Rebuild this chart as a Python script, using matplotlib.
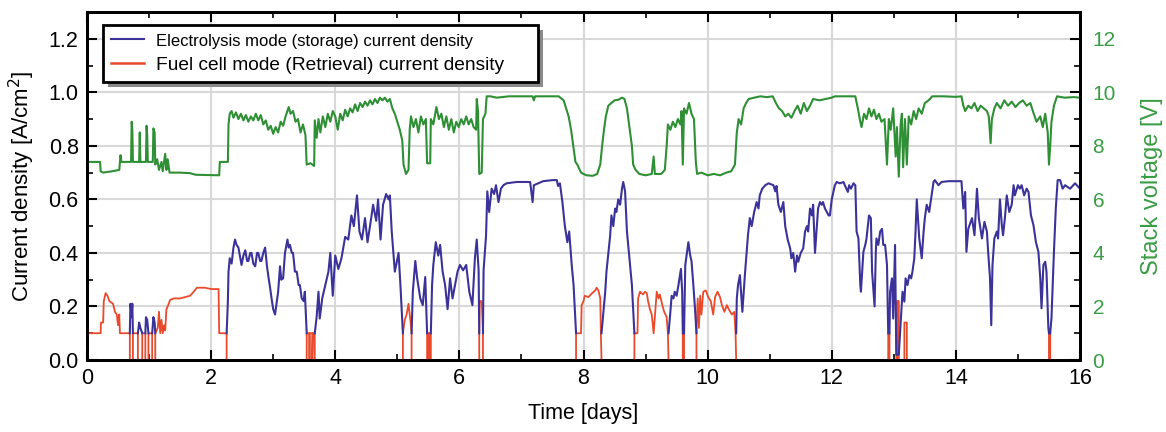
import numpy as np
import matplotlib
matplotlib.use("Agg")
import matplotlib.pyplot as plt
from matplotlib.lines import Line2D
from matplotlib.patches import Rectangle
from matplotlib.transforms import IdentityTransform
from matplotlib.ticker import MultipleLocator

plt.rcParams['font.family'] = ['Liberation Sans', 'DejaVu Sans']

# ---- data: (time [days], value) ----
# stack voltage [V]
voltage = [
    (0.00, 7.40), (0.21, 7.40), (0.22, 7.05), (0.26, 7.00), (0.40, 7.05), (0.52, 7.10),
    (0.53, 7.40), (0.54, 7.65), (0.555, 7.40), (0.71, 7.40), (0.72, 8.90), (0.73, 8.60),
    (0.74, 7.40), (0.84, 7.40), (0.85, 8.50), (0.86, 7.40), (0.95, 7.40), (0.96, 8.75),
    (0.97, 8.40), (0.98, 7.40), (1.06, 7.40), (1.07, 8.65), (1.09, 8.50), (1.10, 7.30),
    (1.13, 7.50), (1.16, 7.10), (1.20, 7.40), (1.22, 7.05), (1.26, 7.70), (1.28, 7.10),
    (1.30, 7.50), (1.33, 7.00), (1.50, 7.00), (1.66, 6.98), (1.75, 6.92), (2.13, 6.90),
    (2.14, 7.40), (2.27, 7.40), (2.28, 8.80), (2.30, 9.20), (2.33, 9.30), (2.36, 9.05),
    (2.40, 9.25), (2.44, 9.00), (2.48, 9.20), (2.52, 8.95), (2.56, 9.15), (2.60, 8.90),
    (2.64, 9.10), (2.68, 8.95), (2.72, 9.20), (2.76, 8.95), (2.80, 9.15), (2.84, 8.80),
    (2.88, 8.95), (2.92, 8.60), (2.96, 8.75), (3.00, 8.45), (3.04, 8.70), (3.08, 8.50),
    (3.12, 8.90), (3.16, 8.75), (3.20, 9.10), (3.25, 9.45), (3.28, 9.20), (3.32, 9.30),
    (3.36, 8.90), (3.40, 9.00), (3.44, 8.50), (3.48, 8.80), (3.52, 8.40), (3.54, 7.30),
    (3.60, 7.35), (3.66, 7.25), (3.67, 8.95), (3.70, 8.30), (3.73, 9.00), (3.76, 8.50),
    (3.80, 9.10), (3.84, 8.70), (3.88, 9.20), (3.92, 8.90), (3.96, 9.30), (4.00, 9.10),
    (4.04, 8.60), (4.08, 9.20), (4.12, 8.95), (4.16, 9.35), (4.20, 9.10), (4.24, 9.40),
    (4.28, 9.25), (4.32, 9.55), (4.36, 9.30), (4.40, 9.60), (4.44, 9.45), (4.48, 9.65),
    (4.52, 9.50), (4.56, 9.70), (4.60, 9.55), (4.64, 9.75), (4.68, 9.60), (4.72, 9.80),
    (4.76, 9.70), (4.80, 9.80), (4.84, 9.65), (4.88, 9.75), (4.92, 9.40), (4.96, 9.20),
    (5.00, 8.90), (5.04, 8.60), (5.08, 8.20), (5.10, 7.30), (5.14, 6.95), (5.18, 7.10),
    (5.20, 8.60), (5.22, 9.10), (5.26, 8.70), (5.30, 9.00), (5.34, 8.50), (5.38, 9.10),
    (5.42, 8.80), (5.46, 9.00), (5.48, 7.35), (5.53, 7.35), (5.54, 9.00), (5.58, 8.80),
    (5.63, 9.45), (5.67, 9.00), (5.71, 9.20), (5.75, 8.70), (5.79, 9.10), (5.83, 8.60),
    (5.87, 9.00), (5.91, 8.50), (5.95, 8.90), (5.99, 8.70), (6.03, 9.00), (6.07, 8.80),
    (6.11, 9.10), (6.15, 8.80), (6.19, 9.00), (6.23, 8.70), (6.27, 8.60), (6.28, 9.75),
    (6.30, 9.30), (6.32, 6.95), (6.36, 7.00), (6.38, 9.00), (6.42, 9.20), (6.44, 9.85),
    (6.50, 9.85), (6.60, 9.80), (6.80, 9.85), (7.00, 9.85), (7.18, 9.85), (7.20, 9.70),
    (7.22, 9.85), (7.40, 9.85), (7.60, 9.85), (7.68, 9.70), (7.72, 9.40), (7.76, 9.10),
    (7.80, 8.60), (7.84, 7.90), (7.87, 7.40), (7.90, 7.30), (7.96, 7.00), (8.00, 6.95),
    (8.05, 6.90), (8.15, 6.88), (8.22, 6.95), (8.27, 7.30), (8.30, 8.00), (8.33, 8.60),
    (8.36, 9.10), (8.40, 9.50), (8.45, 9.60), (8.50, 9.70), (8.56, 9.72), (8.62, 9.80),
    (8.66, 9.75), (8.70, 9.40), (8.74, 8.70), (8.78, 8.00), (8.80, 7.30), (8.84, 7.10),
    (8.90, 6.95), (9.00, 6.90), (9.10, 6.95), (9.13, 7.60), (9.15, 6.95), (9.25, 6.95),
    (9.31, 7.10), (9.34, 8.00), (9.36, 8.80), (9.40, 8.60), (9.44, 8.90), (9.48, 8.70),
    (9.52, 9.00), (9.56, 8.80), (9.58, 9.30), (9.60, 7.30), (9.62, 9.40), (9.66, 9.20),
    (9.70, 9.60), (9.74, 9.20), (9.78, 9.00), (9.81, 7.40), (9.83, 6.95), (9.90, 7.00),
    (10.00, 6.90), (10.10, 6.95), (10.20, 6.90), (10.30, 7.00), (10.38, 7.05), (10.44, 7.30),
    (10.47, 8.50), (10.50, 9.00), (10.54, 8.80), (10.58, 9.40), (10.62, 9.60), (10.66, 9.75),
    (10.75, 9.80), (10.85, 9.85), (10.95, 9.82), (11.05, 9.85), (11.10, 9.60), (11.15, 9.40),
    (11.20, 9.30), (11.25, 9.10), (11.30, 9.20), (11.35, 9.05), (11.40, 9.30), (11.45, 9.50),
    (11.50, 9.20), (11.55, 9.60), (11.60, 9.30), (11.65, 9.50), (11.70, 9.75), (11.80, 9.70),
    (11.90, 9.75), (12.00, 9.80), (12.05, 9.85), (12.20, 9.85), (12.38, 9.85), (12.42, 9.40),
    (12.46, 8.90), (12.48, 8.70), (12.52, 9.20), (12.56, 9.00), (12.60, 9.40), (12.64, 9.10),
    (12.68, 9.35), (12.72, 9.00), (12.76, 9.20), (12.80, 8.90), (12.85, 9.00), (12.89, 7.30),
    (12.92, 9.00), (12.95, 8.60), (12.99, 9.40), (13.03, 7.60), (13.05, 8.70), (13.08, 6.85),
    (13.11, 8.80), (13.13, 9.20), (13.15, 7.20), (13.18, 9.00), (13.21, 7.30), (13.24, 9.10),
    (13.28, 8.80), (13.32, 9.30), (13.36, 9.00), (13.40, 9.40), (13.45, 9.20), (13.50, 9.60),
    (13.56, 9.70), (13.62, 9.85), (13.80, 9.85), (14.00, 9.83), (14.09, 9.85), (14.12, 9.50),
    (14.15, 9.30), (14.20, 9.50), (14.25, 9.40), (14.30, 9.60), (14.35, 9.30), (14.40, 9.50),
    (14.45, 9.40), (14.50, 9.30), (14.53, 9.10), (14.56, 8.10), (14.58, 9.00), (14.62, 9.40),
    (14.66, 9.60), (14.72, 9.40), (14.78, 9.70), (14.84, 9.50), (14.90, 9.65), (14.96, 9.45),
    (15.02, 9.60), (15.08, 9.70), (15.14, 9.50), (15.20, 9.60), (15.24, 9.30), (15.30, 8.90),
    (15.36, 9.10), (15.40, 8.70), (15.44, 9.20), (15.48, 8.50), (15.50, 7.30), (15.52, 8.00),
    (15.54, 8.90), (15.58, 9.50), (15.63, 9.85), (15.75, 9.80), (15.90, 9.82), (16.00, 9.80),
]

# electrolysis current density [A/cm2], None = gap
electrolysis = [
    (0.69, 0.10), (0.70, 0.21), (0.72, 0.16), (0.73, 0.21), (0.74, 0.10), (None, None),
    (0.82, 0.10), (0.84, 0.14), (0.86, 0.12), (0.89, 0.10), (None, None),
    (0.94, 0.10), (0.95, 0.16), (0.97, 0.15), (0.99, 0.10), (None, None),
    (1.05, 0.10), (1.07, 0.16), (1.09, 0.14), (1.10, 0.10), (None, None),
    (2.25, 0.10), (2.27, 0.22), (2.28, 0.33), (2.30, 0.38), (2.33, 0.36), (2.36, 0.42),
    (2.385, 0.45), (2.41, 0.43), (2.44, 0.42), (2.47, 0.38), (2.49, 0.355), (2.52, 0.39),
    (2.55, 0.41), (2.58, 0.37), (2.60, 0.37), (2.63, 0.40), (2.65, 0.40), (2.68, 0.36),
    (2.71, 0.35), (2.74, 0.40), (2.76, 0.40), (2.79, 0.37), (2.81, 0.37), (2.84, 0.40),
    (2.87, 0.42), (2.90, 0.35), (2.93, 0.30), (2.95, 0.27), (2.98, 0.22), (3.00, 0.19),
    (3.03, 0.17), (3.06, 0.22), (3.08, 0.255), (3.11, 0.35), (3.13, 0.30), (3.16, 0.305),
    (3.19, 0.40), (3.23, 0.45), (3.25, 0.42), (3.27, 0.43), (3.30, 0.40), (3.32, 0.40),
    (3.35, 0.33), (3.38, 0.33), (3.41, 0.28), (3.43, 0.28), (3.46, 0.23), (3.49, 0.22),
    (3.51, 0.255), (3.53, 0.155), (3.54, 0.10), (None, None),
    (3.67, 0.10), (3.70, 0.16), (3.73, 0.255), (3.75, 0.155), (3.79, 0.23), (3.84, 0.28),
    (3.89, 0.33), (3.92, 0.40), (3.96, 0.24), (4.00, 0.39), (4.05, 0.34), (4.10, 0.38),
    (4.16, 0.46), (4.21, 0.45), (4.26, 0.54), (4.30, 0.50), (4.35, 0.615), (4.39, 0.48),
    (4.43, 0.45), (4.48, 0.53), (4.52, 0.44), (4.56, 0.50), (4.61, 0.58), (4.66, 0.52),
    (4.69, 0.60), (4.73, 0.45), (4.77, 0.58), (4.82, 0.62), (4.86, 0.60), (4.88, 0.615),
    (4.91, 0.48), (4.96, 0.33), (5.02, 0.40), (5.05, 0.28), (5.09, 0.10), (None, None),
    (5.23, 0.10), (5.25, 0.255), (5.29, 0.37), (5.32, 0.305), (5.37, 0.23), (5.41, 0.205),
    (5.45, 0.31), (5.48, 0.10), (None, None),
    (5.54, 0.10), (5.56, 0.28), (5.58, 0.355), (5.62, 0.44), (5.66, 0.39), (5.69, 0.43),
    (5.73, 0.33), (5.77, 0.28), (5.81, 0.19), (5.85, 0.305), (5.89, 0.23), (5.93, 0.28),
    (5.97, 0.33), (6.01, 0.355), (6.06, 0.335), (6.11, 0.355), (6.16, 0.255), (6.21, 0.205),
    (6.25, 0.38), (6.28, 0.45), (6.31, 0.335), (6.32, 0.10), (None, None),
    (6.38, 0.10), (6.39, 0.335), (6.43, 0.466), (6.45, 0.63), (6.48, 0.553), (6.52, 0.64),
    (6.56, 0.62), (6.59, 0.653), (6.63, 0.59), (6.67, 0.64), (6.71, 0.653), (6.76, 0.66),
    (6.92, 0.665), (7.14, 0.665), (7.18, 0.59), (7.20, 0.653), (7.35, 0.668), (7.50, 0.672),
    (7.57, 0.672), (7.59, 0.65), (7.62, 0.66), (7.66, 0.59), (7.70, 0.50), (7.74, 0.44),
    (7.77, 0.48), (7.81, 0.355), (7.84, 0.28), (7.88, 0.10), (None, None),
    (8.29, 0.10), (8.35, 0.255), (8.37, 0.33), (8.43, 0.466), (8.45, 0.54), (8.48, 0.50),
    (8.51, 0.566), (8.53, 0.553), (8.56, 0.60), (8.59, 0.58), (8.62, 0.64), (8.64, 0.665),
    (8.67, 0.63), (8.70, 0.48), (8.75, 0.355), (8.78, 0.28), (8.82, 0.10), (None, None),
    (9.37, 0.10), (9.40, 0.18), (9.42, 0.24), (9.45, 0.23), (9.47, 0.255), (9.50, 0.24),
    (9.53, 0.28), (9.57, 0.34), (9.59, 0.255), (9.60, 0.10), (None, None),
    (9.62, 0.10), (9.64, 0.355), (9.66, 0.39), (9.69, 0.44), (9.72, 0.39), (9.74, 0.37),
    (9.77, 0.28), (9.80, 0.18), (9.82, 0.10), (None, None),
    (10.46, 0.10), (10.47, 0.23), (10.49, 0.28), (10.52, 0.317), (10.56, 0.18), (10.60, 0.317),
    (10.65, 0.466), (10.68, 0.53), (10.71, 0.50), (10.75, 0.553), (10.79, 0.59), (10.82, 0.566),
    (10.84, 0.615), (10.88, 0.64), (10.93, 0.653), (10.98, 0.66), (11.06, 0.653), (11.09, 0.63),
    (11.11, 0.65), (11.14, 0.58), (11.18, 0.553), (11.22, 0.59), (11.25, 0.50), (11.29, 0.45),
    (11.33, 0.417), (11.35, 0.38), (11.38, 0.40), (11.41, 0.33), (11.44, 0.39), (11.46, 0.367),
    (11.50, 0.40), (11.54, 0.417), (11.57, 0.48), (11.60, 0.50), (11.62, 0.48), (11.65, 0.566),
    (11.68, 0.54), (11.70, 0.58), (11.73, 0.40), (11.76, 0.50), (11.78, 0.566), (11.81, 0.59),
    (11.84, 0.58), (11.86, 0.59), (11.89, 0.566), (11.95, 0.54), (11.97, 0.54), (12.00, 0.60),
    (12.05, 0.653), (12.08, 0.665), (12.13, 0.66), (12.19, 0.665), (12.21, 0.653), (12.26, 0.628),
    (12.28, 0.653), (12.31, 0.64), (12.35, 0.66), (12.38, 0.653), (12.40, 0.48), (12.43, 0.454),
    (12.46, 0.28), (12.47, 0.255), (12.51, 0.404), (12.54, 0.43), (12.56, 0.454), (12.60, 0.54),
    (12.63, 0.53), (12.65, 0.33), (12.69, 0.20), (12.71, 0.404), (12.72, 0.454), (12.75, 0.43),
    (12.78, 0.48), (12.81, 0.49), (12.83, 0.43), (12.86, 0.43), (12.89, 0.355), (12.91, 0.10),
    (None, None),
    (12.93, 0.10), (12.94, 0.255), (12.97, 0.305), (12.99, 0.155), (13.02, 0.43), (13.04, 0.02),
    (13.08, 0.02), (13.10, 0.10), (13.14, 0.255), (13.17, 0.218), (13.19, 0.305), (13.22, 0.28),
    (13.25, 0.317), (13.28, 0.305), (13.30, 0.33), (13.33, 0.38), (13.35, 0.48), (13.37, 0.60),
    (13.41, 0.454), (13.45, 0.38), (13.48, 0.48), (13.50, 0.53), (13.53, 0.58), (13.57, 0.553),
    (13.60, 0.60), (13.64, 0.665), (13.66, 0.672), (13.72, 0.653), (13.77, 0.665), (13.88, 0.668),
    (14.09, 0.668), (14.12, 0.566), (14.15, 0.628), (14.17, 0.404), (14.20, 0.49), (14.26, 0.53),
    (14.30, 0.466), (14.34, 0.64), (14.37, 0.53), (14.42, 0.454), (14.46, 0.516), (14.50, 0.48),
    (14.52, 0.404), (14.55, 0.305), (14.57, 0.13), (14.59, 0.355), (14.62, 0.454), (14.66, 0.48),
    (14.68, 0.454), (14.71, 0.60), (14.74, 0.504), (14.76, 0.466), (14.79, 0.53), (14.82, 0.615),
    (14.86, 0.553), (14.90, 0.58), (14.93, 0.653), (14.95, 0.615), (15.00, 0.653), (15.03, 0.64),
    (15.06, 0.653), (15.10, 0.615), (15.14, 0.64), (15.17, 0.628), (15.21, 0.54), (15.25, 0.504),
    (15.29, 0.44), (15.33, 0.404), (15.36, 0.305), (15.38, 0.193), (15.41, 0.355), (15.44, 0.367),
    (15.46, 0.33), (15.49, 0.12), (15.50, 0.10), (None, None),
    (15.52, 0.10), (15.54, 0.155), (15.58, 0.404), (15.61, 0.566), (15.64, 0.672), (15.68, 0.672),
    (15.72, 0.64), (15.76, 0.653), (15.84, 0.64), (15.92, 0.66), (16.00, 0.64),
]

# fuel cell current density [A/cm2], None = gap
fuel_cell = [
    (0.00, 0.10), (0.22, 0.10), (0.225, 0.14), (0.26, 0.14), (0.27, 0.22), (0.30, 0.25),
    (0.33, 0.24), (0.36, 0.22), (0.42, 0.21), (0.45, 0.18), (0.48, 0.17), (0.50, 0.13),
    (0.52, 0.17), (0.53, 0.10), (0.69, 0.10), (0.69, 0.0), (None, None),
    (0.74, 0.0), (0.74, 0.10), (0.82, 0.10), (0.82, 0.0), (None, None),
    (0.89, 0.0), (0.89, 0.10), (0.94, 0.10), (0.94, 0.0), (None, None),
    (0.99, 0.0), (0.99, 0.10), (1.05, 0.10), (1.05, 0.0), (None, None),
    (1.10, 0.0), (1.10, 0.10), (1.14, 0.12), (1.16, 0.18), (1.18, 0.10), (1.20, 0.15),
    (1.22, 0.10), (1.24, 0.13), (1.26, 0.11), (1.28, 0.19), (1.30, 0.20), (1.34, 0.225),
    (1.40, 0.23), (1.50, 0.23), (1.58, 0.235), (1.66, 0.24), (1.72, 0.255), (1.77, 0.27),
    (1.90, 0.27), (2.00, 0.265), (2.12, 0.265), (2.13, 0.10), (2.25, 0.10), (2.25, 0.0),
    (None, None),
    (3.54, 0.0), (3.54, 0.10), (3.58, 0.10), (3.58, 0.0), (3.59, 0.0), (3.59, 0.10),
    (3.63, 0.10), (3.63, 0.0), (3.64, 0.10), (3.67, 0.10), (3.67, 0.0), (None, None),
    (5.09, 0.0), (5.09, 0.10), (5.12, 0.15), (5.15, 0.17), (5.18, 0.21), (5.21, 0.15),
    (5.23, 0.10), (5.23, 0.0), (None, None),
    (5.48, 0.0), (5.48, 0.10), (5.51, 0.10), (5.51, 0.0), (5.52, 0.0), (5.52, 0.10),
    (5.54, 0.10), (5.54, 0.0), (None, None),
    (6.32, 0.0), (6.32, 0.10), (6.33, 0.22), (6.36, 0.22), (6.38, 0.10), (6.38, 0.0),
    (None, None),
    (7.88, 0.0), (7.88, 0.10), (7.96, 0.10), (7.97, 0.205), (8.00, 0.22), (8.02, 0.24),
    (8.08, 0.235), (8.14, 0.25), (8.19, 0.26), (8.21, 0.27), (8.24, 0.26), (8.27, 0.23),
    (8.28, 0.10), (8.29, 0.0), (None, None),
    (8.82, 0.0), (8.82, 0.10), (8.87, 0.10), (8.88, 0.23), (8.91, 0.255), (8.93, 0.25),
    (8.96, 0.245), (8.99, 0.255), (9.02, 0.25), (9.04, 0.22), (9.07, 0.19), (9.10, 0.17),
    (9.13, 0.10), (9.15, 0.16), (9.18, 0.255), (9.21, 0.23), (9.23, 0.245), (9.27, 0.205),
    (9.30, 0.18), (9.34, 0.16), (9.36, 0.10), (9.37, 0.0), (None, None),
    (9.60, 0.0), (9.60, 0.10), (9.62, 0.10), (9.62, 0.0), (None, None),
    (9.82, 0.0), (9.82, 0.10), (9.84, 0.23), (9.86, 0.12), (9.88, 0.24), (9.90, 0.17),
    (9.93, 0.255), (9.97, 0.26), (10.01, 0.235), (10.05, 0.22), (10.09, 0.17), (10.12, 0.235),
    (10.16, 0.255), (10.20, 0.235), (10.23, 0.205), (10.27, 0.18), (10.31, 0.205), (10.34, 0.19),
    (10.39, 0.17), (10.43, 0.18), (10.45, 0.10), (10.46, 0.0), (None, None),
    (12.91, 0.0), (12.91, 0.10), (12.93, 0.10), (12.93, 0.0), (None, None),
    (13.04, 0.0), (13.04, 0.22), (13.06, 0.22), (13.06, 0.0), (13.07, 0.0), (13.07, 0.22),
    (13.08, 0.22), (13.08, 0.0), (None, None),
    (13.17, 0.0), (13.17, 0.14), (13.21, 0.14), (13.21, 0.0), (None, None),
    (15.50, 0.0), (15.50, 0.10), (15.52, 0.10), (15.52, 0.0),
]

legend_labels = ['Electrolysis mode (storage) current density',
                 'Fuel cell mode (Retrieval) current density']

blue = '#3b3399'
red = '#ea4a2c'
green = '#2f8f35'
green_txt = '#3a9c45'

v = np.array(voltage, dtype=float)
el = np.array(electrolysis, dtype=float)
fc = np.array(fuel_cell, dtype=float)

fig = plt.figure(figsize=(11.66, 4.32), dpi=100)
ax = fig.add_axes([87 / 1166, 1 - 360 / 432, 993 / 1166, 348 / 432])
ax2 = ax.twinx()

ax.plot(fc[:, 0], fc[:, 1], color=red, lw=1.3, zorder=3)
ax.plot(el[:, 0], el[:, 1], color=blue, lw=1.5, zorder=4)
ax2.plot(v[:, 0], v[:, 1], color=green, lw=1.5)

ax.set_xlim(0, 16)
ax.set_ylim(0, 1.3)
ax2.set_ylim(0, 13)
ax.xaxis.set_major_locator(MultipleLocator(2))
ax.xaxis.set_minor_locator(MultipleLocator(1))
ax.yaxis.set_minor_locator(MultipleLocator(0.1))
ax2.yaxis.set_minor_locator(MultipleLocator(1))
yt = np.arange(0, 1.21, 0.2)
ax.set_yticks(yt)
ax.set_yticklabels(['%.1f' % t for t in yt])
ax2.set_yticks(np.arange(0, 12.1, 2))

ax.grid(True, which='major', color='#d8d8d8', lw=1.5)
ax.set_axisbelow(True)

ax.tick_params(which='both', direction='in', top=True, right=False, labelsize=15.5, pad=6)
ax.tick_params(which='major', length=7, width=1.5)
ax.tick_params(which='minor', length=4, width=1.2)
ax2.tick_params(which='both', direction='in', labelsize=15, labelcolor=green_txt, pad=9)
ax2.tick_params(which='major', length=7, width=1.5)
ax2.tick_params(which='minor', length=4, width=1.2)

for a in (ax, ax2):
    for s in a.spines.values():
        s.set_linewidth(2)

ax.set_xlabel('Time [days]', fontsize=15.5, labelpad=10)
ax.set_ylabel('Current density [A/cm$^2$]', fontsize=16, labelpad=8)
ax2.set_ylabel('Stack voltage [V]', fontsize=17, color=green_txt, labelpad=18)

handles = [Line2D([], [], color=blue, lw=1.5), Line2D([], [], color=red, lw=1.8)]
leg = ax.legend(handles, [legend_labels[0], legend_labels[1] + '     '],
                loc='upper left', bbox_to_anchor=(0.016, 0.963),
                borderaxespad=0, fancybox=False, shadow=False, framealpha=1,
                edgecolor='black', handlelength=1.75, handletextpad=0.6,
                fontsize=13.8, labelspacing=0.4, borderpad=0.4)
leg.get_frame().set_linewidth(2)
leg.get_texts()[0].set_fontsize(12)
leg.set_zorder(10)

# drop shadow behind the legend box
fig.canvas.draw()
bb = leg.get_window_extent()
ax.add_patch(Rectangle((bb.x0 + 5, bb.y0 - 5), bb.width, bb.height,
                       transform=IdentityTransform(), facecolor='#8a8a8a',
                       edgecolor='none', zorder=9, clip_on=False))

fig.savefig('out.png', dpi=100)
